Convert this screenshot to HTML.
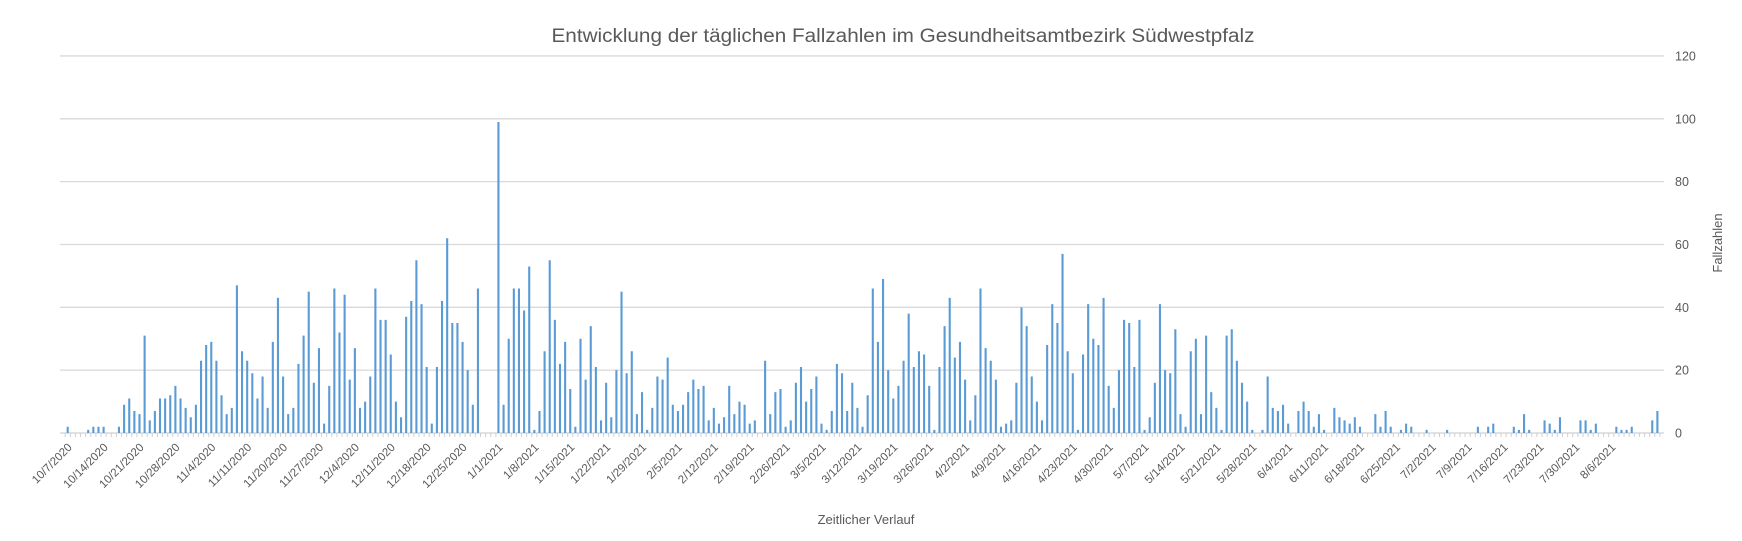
<!DOCTYPE html>
<html><head><meta charset="utf-8"><style>
html,body{margin:0;padding:0;background:#fff;}
svg{display:block;font-family:"Liberation Sans",sans-serif;}
</style></head><body>
<svg id="c" width="1742" height="541" viewBox="0 0 1742 541" xmlns="http://www.w3.org/2000/svg">
<rect width="1742" height="541" fill="#fff"/>
<text x="903" y="42" text-anchor="middle" font-size="19" fill="#595959" textLength="703" lengthAdjust="spacingAndGlyphs">Entwicklung der täglichen Fallzahlen im Gesundheitsamtbezirk Südwestpfalz</text>
<g id="grid"></g>
<g id="bars"></g>
<g id="ticks"></g>
<g id="lbl" font-size="11.5" fill="#595959"></g>
<text x="866" y="524" text-anchor="middle" font-size="13" fill="#595959">Zeitlicher Verlauf</text>
<text transform="translate(1722,243) rotate(-90)" text-anchor="middle" font-size="13" fill="#595959">Fallzahlen</text>
</svg>
<script>
var v={0:2,4:1,5:2,6:2,7:2,10:2,11:9,12:11,13:7,14:6,15:31,16:4,17:7,18:11,19:11,20:12,21:15,22:11,23:8,24:5,25:9,26:23,27:28,28:29,29:23,30:12,31:6,32:8,33:47,34:26,35:23,36:19,37:11,38:18,39:8,40:29,41:43,42:18,43:6,44:8,45:22,46:31,47:45,48:16,49:27,50:3,51:15,52:46,53:32,54:44,55:17,56:27,57:8,58:10,59:18,60:46,61:36,62:36,63:25,64:10,65:5,66:37,67:42,68:55,69:41,70:21,71:3,72:21,73:42,74:62,75:35,76:35,77:29,78:20,79:9,80:46,84:99,85:9,86:30,87:46,88:46,89:39,90:53,91:1,92:7,93:26,94:55,95:36,96:22,97:29,98:14,99:2,100:30,101:17,102:34,103:21,104:4,105:16,106:5,107:20,108:45,109:19,110:26,111:6,112:13,113:1,114:8,115:18,116:17,117:24,118:9,119:7,120:9,121:13,122:17,123:14,124:15,125:4,126:8,127:3,128:5,129:15,130:6,131:10,132:9,133:3,134:4,136:23,137:6,138:13,139:14,140:2,141:4,142:16,143:21,144:10,145:14,146:18,147:3,148:1,149:7,150:22,151:19,152:7,153:16,154:8,155:2,156:12,157:46,158:29,159:49,160:20,161:11,162:15,163:23,164:38,165:21,166:26,167:25,168:15,169:1,170:21,171:34,172:43,173:24,174:29,175:17,176:4,177:12,178:46,179:27,180:23,181:17,182:2,183:3,184:4,185:16,186:40,187:34,188:18,189:10,190:4,191:28,192:41,193:35,194:57,195:26,196:19,197:1,198:25,199:41,200:30,201:28,202:43,203:15,204:8,205:20,206:36,207:35,208:21,209:36,210:1,211:5,212:16,213:41,214:20,215:19,216:33,217:6,218:2,219:26,220:30,221:6,222:31,223:13,224:8,225:1,226:31,227:33,228:23,229:16,230:10,231:1,233:1,234:18,235:8,236:7,237:9,238:3,240:7,241:10,242:7,243:2,244:6,245:1,247:8,248:5,249:4,250:3,251:5,252:2,255:6,256:2,257:7,258:2,260:1,261:3,262:2,265:1,269:1,275:2,277:2,278:3,282:2,283:1,284:6,285:1,288:4,289:3,290:1,291:5,295:4,296:4,297:1,298:3,302:2,303:1,304:1,305:2,309:4,310:7};
var NS="http://www.w3.org/2000/svg";
function el(p,t,a,txt){var e=document.createElementNS(NS,t);for(var k in a)e.setAttribute(k,a[k]);if(txt!=null)e.textContent=txt;document.getElementById(p).appendChild(e);return e;}
var y0=433,u=3.142,x0=67.7,sp=5.128;
for(var g=0;g<=6;g++){var y=y0-g*20*u;
 el("grid","line",{x1:60,x2:1664,y1:y,y2:y,stroke:g==0?"#d0d0d0":"#d9d9d9","stroke-width":1.3});
 el("lbl","text",{x:1675,y:y+4.5,"font-size":12.5},String(g*20));}
var d="";
for(var i=0;i<311;i++){ if(v[i]){d+="M"+(x0+i*sp).toFixed(2)+" "+y0+"v-"+(v[i]*u).toFixed(2);} }
el("bars","path",{d:d,stroke:"#5b9bd5","stroke-width":2.1,fill:"none"});
var td="";
for(var i=0;i<=311;i++){var x=(x0-sp/2+i*sp).toFixed(2);td+="M"+x+" "+y0+"v4";}
el("ticks","path",{d:td,stroke:"#d0d0d0","stroke-width":1,fill:"none"});
var start=new Date(2020,9,7);
for(var k=0;k*7<=303;k++){var i=k*7;var off=i+(k>=6?2:0);
 var dt=new Date(start.getTime()+off*86400000+3600000*3);
 var s=(dt.getMonth()+1)+"/"+dt.getDate()+"/"+dt.getFullYear();
 var x=x0+i*sp+5, y=448;
 el("lbl","text",{x:x,y:y,"text-anchor":"end",transform:"rotate(-45 "+x+" "+y+")"},s);}
</script>
</body></html>
